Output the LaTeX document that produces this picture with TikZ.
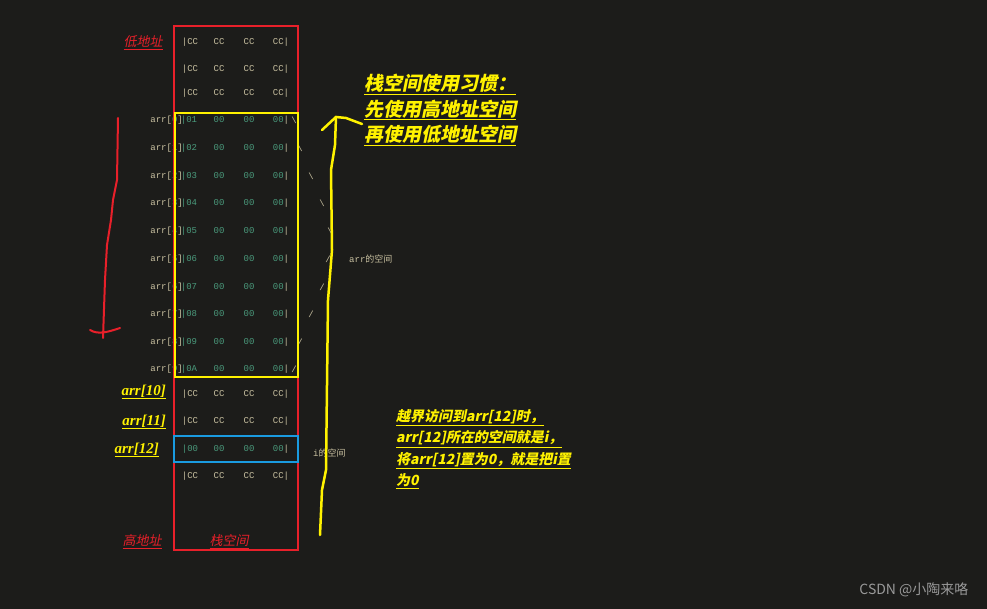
\documentclass[tikz,border=0pt]{standalone}
\usepackage{fontspec}
\setmonofont{Liberation Mono}
\setmainfont{Liberation Serif}
\newfontfamily\cjk{Noto Sans CJK SC}
\newfontfamily\cjki[FakeSlant=0.2]{Noto Sans CJK SC}
\definecolor{bg}{HTML}{1C1C1A}
\definecolor{tan}{HTML}{C8C0A0}
\definecolor{grn}{HTML}{4A9A7C}
\definecolor{myred}{HTML}{E8202A}
\definecolor{myyel}{HTML}{FFF200}
\definecolor{myblue}{HTML}{1A9BE0}
\tikzset{
 mem/.style={font=\ttfamily\fontsize{9}{9}\selectfont, inner sep=0pt},
 cc/.style={mem, text=tan},
 zz/.style={mem, text=grn},
 redlab/.style={font=\cjki\fontsize{13}{13}\selectfont, text=myred, inner sep=1pt},
 yellab/.style={font=\bfseries\itshape\fontsize{15}{15}\selectfont, text=myyel, inner sep=1pt},
}
\begin{document}
\begin{tikzpicture}[x=1pt,y=-1pt]
\fill[bg] (0,0) rectangle (987,609);
\useasboundingbox (0,0) rectangle (987,609);
% CC rows
\foreach \y/\n in {42/a,69/b,93/c,394/d,421/e,476/f}{
 \node[cc] (\n1) at (190,\y) {|CC};
 \node[cc] (\n2) at (219,\y) {CC};
 \node[cc] (\n3) at (249,\y) {CC};
 \node[cc] (\n4) at (281,\y) {CC|};
}
% arr rows
\foreach \k/\y/\v/\s/\sx in {0/120/01/\textbackslash/294,1/148/02/\textbackslash/300,2/176/03/\textbackslash/311,3/203/04/\textbackslash/322,4/231/05/\textbackslash/330,5/259/06/\slash/328,6/287/07/\slash/322,7/314/08/\slash/311,8/342/09/\slash/300,9/369/0A/\slash/294}{
 \node[cc, anchor=east] (l\k) at (183,\y) {arr[{\color{grn}\k}]};
 \node[zz] (v\k) at (189,\y) {|\v};
 \node[zz] (w\k) at (219,\y) {00};
 \node[zz] (x\k) at (249,\y) {00};
 \node[zz] (y\k) at (281,\y) {00\textcolor{tan}{|}};
 \node[cc] (s\k) at (\sx,\y) {\s};
}
\node[zz] (i1) at (190,449) {|00};
\node[zz] (i2) at (219,449) {00};
\node[zz] (i3) at (249,449) {00};
\node[zz] (i4) at (281,449) {00\textcolor{tan}{|}};
\node[cc, anchor=west] (arrsp) at (349,259) {arr{\cjk 的空间}};
\node[cc, anchor=west] (isp) at (313,453) {i{\cjk 的空间}};
% boxes
\draw[myred, line width=2pt] (174,26) rectangle (298,550);
\draw[myyel, line width=2pt] (175,113) rectangle (298,377);
\draw[myblue, line width=2pt] (174,436) rectangle (298,462);
% labels
\node[redlab] (low) at (143,43) {\underline{低地址}};
\node[redlab] (high) at (142,542) {\underline{高地址}};
\node[redlab] (stk) at (229,542) {\underline{栈空间}};
\node[yellab, anchor=east] (a10) at (167,392) {\underline{arr[10]}};
\node[yellab, anchor=east] (a11) at (167,422) {\underline{arr[11]}};
\node[yellab, anchor=east] (a12) at (160,450) {\underline{arr[12]}};
\node[font=\cjki\bfseries\fontsize{19}{19}\selectfont, text=myyel, anchor=north west, align=left, inner sep=0pt] (hab) at (364,74)
 {\underline{栈空间使用习惯：}\\[4pt]\underline{先使用高地址空间}\\[4pt]\underline{再使用低地址空间}};
\node[font=\cjki\bfseries\fontsize{14}{14}\selectfont, text=myyel, anchor=north west, align=left, inner sep=0pt] (note) at (396,409)
 {\underline{越界访问到arr[12]时，}\\[4pt]\underline{arr[12]所在的空间就是i，}\\[4pt]\underline{将arr[12]置为0，就是把i置}\\[4pt]\underline{为0}};
% red arrow
\coordinate (r0) at (118,118);
\coordinate (r1) at (103,338);
\draw[myred, line width=2pt, line cap=round] (r0) -- (117,180) -- (113,200) -- (111,220) -- (107,245) -- (105,280) -- (r1);
\draw[myred, line width=2pt, line cap=round] (90,330) .. controls (98,335) and (108,332) .. (120,328);
% yellow arrow
\coordinate (y0) at (320,535);
\coordinate (y1) at (336,117);
\draw[myyel, line width=2.5pt, line cap=round] (y0) -- (322,490) -- (326,470) -- (328,300) -- (332,250) -- (331,170) -- (335,145) -- (y1);
\draw[myyel, line width=2.5pt, line cap=round] (322,130) -- (336,117) -- (346,118) -- (362,124);
\node[font=\cjk\fontsize{14}{14}\selectfont, text=gray!80, anchor=east] (wm) at (972,590) {CSDN @小陶来咯};
\end{tikzpicture}
\end{document}
